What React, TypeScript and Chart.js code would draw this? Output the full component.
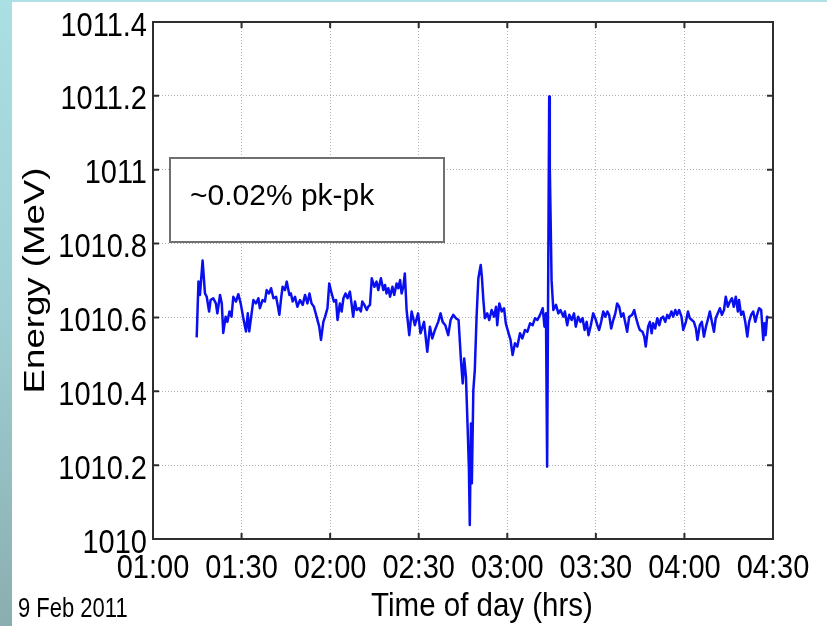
import { useEffect, useRef } from "react";
import { Chart, registerables } from "chart.js";

Chart.register(...registerables);

// Beam energy samples: minutes after midnight and energy in MeV
const timeMinutes: number[] = [
  74.8, 75.4, 75.9, 76.8, 77.6, 78.2, 79.0, 79.5, 80.4, 81.3, 81.8, 82.7, 83.3, 83.8, 84.6, 85.2,
  85.9, 86.6, 87.2, 88.1, 88.9, 89.7, 90.6, 91.5, 92.1, 92.6, 93.4, 94.0, 94.9, 95.7, 96.2, 97.1,
  97.9, 98.5, 99.3, 100.0, 100.8, 101.7, 102.2, 102.8, 103.4, 103.9, 104.7, 105.3, 106.2, 106.7,
  107.3, 108.1, 108.9, 109.8, 110.7, 111.5, 112.3, 113.0, 113.7, 114.5, 115.4, 116.3, 116.9, 117.7,
  118.3, 119.1, 119.7, 120.5, 121.3, 122.0, 122.5, 123.3, 123.9, 124.5, 125.2, 125.9, 126.7, 127.3,
  127.8, 128.4, 129.0, 129.8, 130.4, 130.9, 131.6, 132.4, 132.9, 133.5, 134.1, 135.0, 135.7, 136.3,
  137.2, 138.0, 138.6, 139.1, 139.7, 140.3, 141.1, 141.7, 142.5, 143.1, 143.7, 144.2, 144.8, 145.3,
  145.9, 146.8, 147.6, 148.7, 149.8, 150.6, 151.8, 152.9, 153.8, 154.6, 155.5, 156.6, 157.4, 158.1,
  159.0, 160.0, 160.8, 161.7, 162.6, 163.5, 164.3, 164.9, 165.4, 166.0, 166.6, 167.0, 167.3, 167.7,
  168.0, 168.5, 169.0, 169.6, 170.2, 171.0, 171.4, 171.9, 172.4, 173.2, 173.9, 174.7, 175.5, 176.2,
  176.6, 177.3, 178.1, 178.9, 179.5, 180.3, 181.1, 181.8, 182.6, 183.4, 184.3, 185.1, 186.0, 186.8,
  187.7, 188.6, 189.4, 190.2, 191.1, 192.0, 192.6, 193.1, 193.5, 194.2, 194.4, 195.0, 195.6, 196.5,
  197.3, 198.0, 199.0, 199.5, 200.3, 201.0, 201.8, 202.6, 203.2, 204.0, 204.8, 205.5, 206.2, 206.9,
  207.5, 208.3, 209.1, 209.8, 210.5, 211.1, 211.8, 212.5, 213.2, 213.9, 214.5, 215.2, 215.9, 216.6,
  217.2, 217.9, 218.6, 219.3, 219.9, 220.6, 221.3, 222.3, 223.0, 223.5, 224.3, 224.9, 225.8, 226.4,
  226.9, 227.7, 228.3, 228.9, 229.4, 230.1, 230.8, 231.5, 232.1, 232.8, 233.5, 234.2, 234.8, 235.6,
  236.2, 236.9, 237.5, 238.2, 239.0, 239.6, 240.5, 241.2, 241.8, 242.5, 243.2, 243.9, 244.4, 245.2,
  245.9, 246.6, 247.3, 247.9, 248.6, 249.3, 250.0, 250.6, 251.3, 252.0, 252.7, 253.4, 254.0, 254.7,
  255.4, 256.1, 256.7, 257.4, 258.1, 258.5, 259.2, 259.9, 260.6, 261.3, 261.9, 262.6, 263.3, 264.0,
  264.6, 265.3, 266.0, 266.7, 267.1, 267.5, 268.0, 268.5,
];

const energyMeV: number[] = [
  1010.546, 1010.697, 1010.661, 1010.754, 1010.665, 1010.656, 1010.616, 1010.647, 1010.652, 1010.638,
  1010.611, 1010.661, 1010.638, 1010.558, 1010.602, 1010.588, 1010.616, 1010.602, 1010.656, 1010.643,
  1010.663, 1010.638, 1010.598, 1010.562, 1010.611, 1010.562, 1010.611, 1010.647, 1010.638, 1010.652,
  1010.625, 1010.647, 1010.643, 1010.674, 1010.665, 1010.679, 1010.652, 1010.656, 1010.634, 1010.607,
  1010.652, 1010.683, 1010.674, 1010.697, 1010.661, 1010.665, 1010.643, 1010.656, 1010.629, 1010.647,
  1010.634, 1010.661, 1010.638, 1010.665, 1010.638, 1010.629, 1010.602, 1010.575, 1010.539, 1010.588,
  1010.602, 1010.625, 1010.692, 1010.665, 1010.643, 1010.647, 1010.593, 1010.638, 1010.616, 1010.652,
  1010.665, 1010.652, 1010.670, 1010.634, 1010.602, 1010.643, 1010.620, 1010.625, 1010.616, 1010.643,
  1010.634, 1010.620, 1010.629, 1010.634, 1010.706, 1010.683, 1010.697, 1010.674, 1010.706, 1010.674,
  1010.688, 1010.665, 1010.679, 1010.656, 1010.683, 1010.661, 1010.692, 1010.679, 1010.701, 1010.665,
  1010.683, 1010.719, 1010.620, 1010.552, 1010.616, 1010.579, 1010.611, 1010.557, 1010.588, 1010.507,
  1010.575, 1010.543, 1010.566, 1010.588, 1010.611, 1010.588, 1010.579, 1010.552, 1010.593, 1010.607,
  1010.598, 1010.593, 1010.485, 1010.421, 1010.489, 1010.439, 1010.295, 1010.191, 1010.038, 1010.313,
  1010.151, 1010.403, 1010.458, 1010.602, 1010.706, 1010.742, 1010.710, 1010.647, 1010.598, 1010.611,
  1010.593, 1010.620, 1010.602, 1010.629, 1010.579, 1010.638, 1010.616, 1010.625, 1010.584, 1010.561,
  1010.539, 1010.498, 1010.530, 1010.521, 1010.557, 1010.543, 1010.566, 1010.561, 1010.584, 1010.579,
  1010.598, 1010.593, 1010.607, 1010.625, 1010.575, 1010.611, 1010.196, 1011.198, 1011.008, 1010.701,
  1010.620, 1010.634, 1010.611, 1010.620, 1010.602, 1010.616, 1010.579, 1010.607, 1010.593, 1010.611,
  1010.575, 1010.602, 1010.588, 1010.598, 1010.566, 1010.588, 1010.552, 1010.579, 1010.611, 1010.598,
  1010.579, 1010.566, 1010.588, 1010.616, 1010.602, 1010.616, 1010.607, 1010.570, 1010.593, 1010.611,
  1010.638, 1010.629, 1010.602, 1010.611, 1010.588, 1010.561, 1010.602, 1010.607, 1010.620, 1010.602,
  1010.579, 1010.566, 1010.561, 1010.548, 1010.521, 1010.575, 1010.588, 1010.557, 1010.584, 1010.570,
  1010.598, 1010.579, 1010.598, 1010.602, 1010.588, 1010.607, 1010.598, 1010.616, 1010.602, 1010.620,
  1010.607, 1010.620, 1010.602, 1010.566, 1010.588, 1010.616, 1010.598, 1010.593, 1010.588, 1010.570,
  1010.539, 1010.579, 1010.588, 1010.548, 1010.575, 1010.593, 1010.616, 1010.588, 1010.561, 1010.598,
  1010.611, 1010.625, 1010.607, 1010.620, 1010.656, 1010.629, 1010.643, 1010.652, 1010.629, 1010.656,
  1010.616, 1010.647, 1010.607, 1010.616, 1010.588, 1010.548, 1010.588, 1010.607, 1010.616, 1010.588,
  1010.607, 1010.625, 1010.620, 1010.539, 1010.584, 1010.552, 1010.602, 1010.598,
];

const xTickMinutes = [60, 90, 120, 150, 180, 210, 240, 270];
const xTickLabels = ["01:00", "01:30", "02:00", "02:30", "03:00", "03:30", "04:00", "04:30"];
const yTickValues = [1010, 1010.2, 1010.4, 1010.6, 1010.8, 1011, 1011.2, 1011.4];
const yTickLabels = ["1010", "1010.2", "1010.4", "1010.6", "1010.8", "1011", "1011.2", "1011.4"];

const xAxisTitle = "Time of day (hrs)";
const yAxisTitle = "Energy (MeV)";
const spreadNote = "~0.02% pk-pk";
const dateNote = "9 Feb 2011";

const FONT = '"Liberation Sans", Arial, Helvetica, sans-serif';

type Ctx = CanvasRenderingContext2D;

// Text drawn with a separate horizontal / vertical scale (the figure's lettering is tall)
function drawText(
  ctx: Ctx,
  text: string,
  x: number,
  y: number,
  size: number,
  align: CanvasTextAlign,
  sy: number,
  rotate = false,
) {
  ctx.save();
  ctx.translate(x, y);
  if (rotate) {
    ctx.rotate(-Math.PI / 2);
    ctx.scale(sy, 1);
  } else {
    ctx.scale(1, sy);
  }
  ctx.font = `${size}px ${FONT}`;
  ctx.fillStyle = "#000";
  ctx.textAlign = align;
  ctx.textBaseline = "alphabetic";
  ctx.fillText(text, 0, 0);
  ctx.restore();
}

const framePlugin = {
  id: "matlabFrame",
  afterDraw(chart: any) {
    const { ctx, chartArea: a, scales } = chart;
    const xs = scales.x;
    const ys = scales.y;
    const tick = 6;
    ctx.save();

    // axes box
    ctx.strokeStyle = "#2e2e2e";
    ctx.lineWidth = 2;
    ctx.setLineDash([]);
    ctx.strokeRect(a.left, a.top, a.right - a.left, a.bottom - a.top);

    // inward tick marks on all four sides
    ctx.lineWidth = 2;
    ctx.beginPath();
    xTickMinutes.forEach((m) => {
      const px = xs.getPixelForValue(m);
      ctx.moveTo(px, a.bottom);
      ctx.lineTo(px, a.bottom - tick);
      ctx.moveTo(px, a.top);
      ctx.lineTo(px, a.top + tick);
    });
    yTickValues.forEach((v) => {
      const py = ys.getPixelForValue(v);
      ctx.moveTo(a.left, py);
      ctx.lineTo(a.left + tick, py);
      ctx.moveTo(a.right, py);
      ctx.lineTo(a.right - tick, py);
    });
    ctx.stroke();

    // tick labels
    xTickMinutes.forEach((m, i) => {
      const px = xs.getPixelForValue(m);
      drawText(ctx, xTickLabels[i], px, a.bottom + 39, 29, "center", 1.17);
    });
    yTickValues.forEach((v, i) => {
      const py = ys.getPixelForValue(v);
      drawText(ctx, yTickLabels[i], a.left - 6, py + 13.5, 29, "right", 1.17);
    });

    // axis titles
    drawText(ctx, xAxisTitle, (a.left + a.right) / 2 + 19, a.bottom + 77, 29.5, "center", 1.12);
    drawText(ctx, yAxisTitle, 44, (a.top + a.bottom) / 2, 30, "center", 1.22, true);

    // peak-to-peak note
    const bx = a.left + 17;
    const by = a.top + 136;
    ctx.fillStyle = "#fff";
    ctx.fillRect(bx, by, 274, 84);
    ctx.strokeStyle = "#707070";
    ctx.lineWidth = 2;
    ctx.strokeRect(bx, by, 274, 84);
    drawText(ctx, spreadNote, bx + 20, by + 47, 30, "left", 1);

    // date stamp
    drawText(ctx, dateNote, 18, 617, 22, "left", 1.27);

    ctx.restore();
  },
};

export default function App() {
  const canvasRef = useRef<HTMLCanvasElement | null>(null);

  useEffect(() => {
    const canvas = canvasRef.current;
    if (!canvas) return;
    const points = timeMinutes.map((t, i) => ({ x: t, y: energyMeV[i] }));
    const chart = new Chart(canvas, {
      type: "line",
      data: {
        datasets: [
          {
            data: points,
            borderColor: "#0a0ff0",
            borderWidth: 2.5,
            borderJoinStyle: "round",
            pointRadius: 0,
            tension: 0,
            fill: false,
          },
        ],
      },
      options: {
        responsive: false,
        animation: false,
        events: [],
        layout: { padding: { left: 0, top: 22, right: 54, bottom: 0 } },
        plugins: {
          legend: { display: false },
          tooltip: { enabled: false },
          title: { display: false },
        },
        scales: {
          x: {
            type: "linear",
            min: 60,
            max: 270,
            afterBuildTicks: (scale: any) => {
              scale.ticks = xTickMinutes.map((v) => ({ value: v }));
            },
            afterFit: (scale: any) => {
              scale.height = 87;
            },
            ticks: { display: false },
            grid: { color: "#b4b4b4", lineWidth: 1, drawTicks: false, tickLength: 0 },
            border: { display: false, dash: [1, 2] },
          },
          y: {
            type: "linear",
            min: 1010,
            max: 1011.4,
            afterBuildTicks: (scale: any) => {
              scale.ticks = yTickValues.map((v) => ({ value: v }));
            },
            afterFit: (scale: any) => {
              scale.width = 153;
            },
            ticks: { display: false },
            grid: { color: "#b4b4b4", lineWidth: 1, drawTicks: false, tickLength: 0 },
            border: { display: false, dash: [1, 2] },
          },
        },
      },
      plugins: [framePlugin],
    });
    return () => chart.destroy();
  }, []);

  return (
    <div
      style={{
        position: "fixed",
        left: 0,
        top: 0,
        width: 827,
        height: 626,
        background: "#fff",
        overflow: "hidden",
      }}
    >
      <div
        style={{
          position: "absolute",
          left: 0,
          top: 0,
          width: 827,
          height: 2,
          background: "#afe0e5",
        }}
      />
      <div
        style={{
          position: "absolute",
          left: 0,
          top: 0,
          width: 12,
          height: 626,
          background: "linear-gradient(to bottom, #aadfe4 0%, #9fcfd3 50%, #8aaeb0 100%)",
        }}
      />
      <canvas
        ref={canvasRef}
        width={827}
        height={626}
        style={{ position: "absolute", left: 0, top: 0, width: 827, height: 626 }}
      />
    </div>
  );
}
